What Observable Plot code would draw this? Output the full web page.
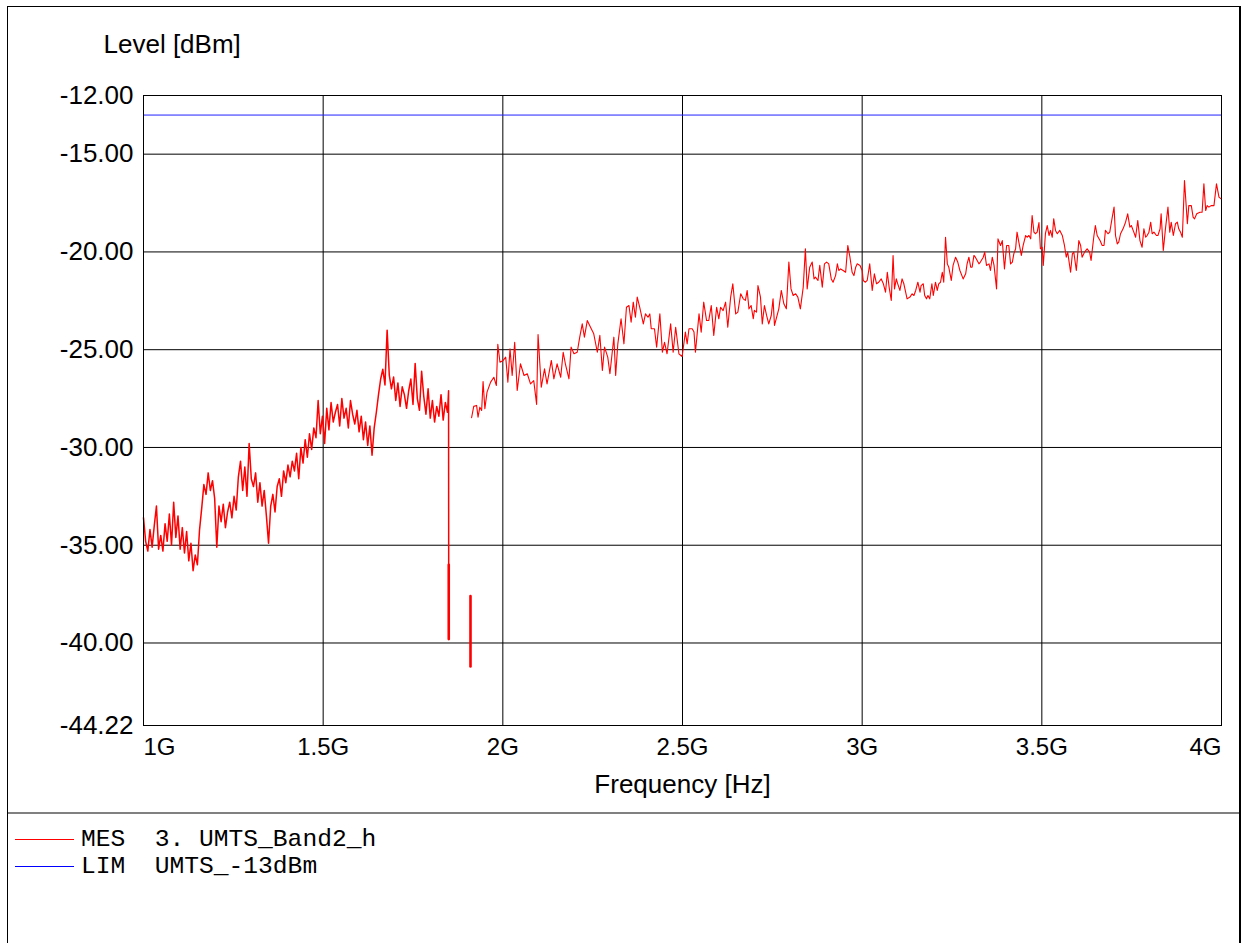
<!DOCTYPE html>
<html><head><meta charset="utf-8">
<script src="https://cdn.jsdelivr.net/npm/d3@7"></script>
<script src="https://cdn.jsdelivr.net/npm/@observablehq/plot@0.6"></script>
<style>
html,body{margin:0;padding:0;background:#fff}
body{width:1242px;height:943px;overflow:hidden;position:relative;font-family:"Liberation Sans",Arial,sans-serif}
#chart{position:absolute;left:0;top:0}
#frame{position:absolute;left:7px;top:6px;height:960px;border-left:1px solid #000;border-top:1px solid #000;border-right:2px solid #000;box-sizing:border-box;width:1234px}
#sep{position:absolute;left:8px;top:812px;width:1231px;height:2px;background:#808080}
#legend{position:absolute;left:15px;top:826px;font-family:"Liberation Mono","Courier New",monospace;font-size:24.6px;color:#000}
.row{display:flex;align-items:center;height:27px;white-space:pre}
.sw{width:59px;height:1px;margin-right:7px}
</style></head><body>
<div id="chart"></div><div id="frame"></div><div id="sep"></div>
<div id="legend"></div>
<script>
// ---- Data ----
const yTicks = [-12, -15, -20, -25, -30, -35, -40, -44.22];
const yGrid = [-15, -20, -25, -30, -35, -40];
const xTicksMid = [1500, 2000, 2500, 3000, 3500];   // MHz
const xGrid = [1500, 2000, 2500, 3000, 3500];
const limitLevel = -13;                               // LIM UMTS_-13dBm

// Segment A: sweep 1000 MHz .. 1846 MHz, 6 MHz step
const segAStart = 1000, segAStep = 6;
const levelA = [
 -33.6,-34.8,-35.3,-34.2,-35.1,-34.0,-33.0,-35.2,
 -34.5,-35.3,-33.9,-34.8,-33.4,-35.0,
 -32.8,
 -34.6,-33.5,-35.2,-34.1,-35.4,-34.3,-35.8,-34.9,-36.3,-35.5,-36.0,-34.2,
 -33.1,-31.9,-32.4,-31.3,-32.2,-31.7,-32.6,
 -35.1,
 -33.0,-33.8,-32.9,-34.1,-33.3,-32.8,-33.6,-32.5,-33.2,
 -31.5,-30.7,-32.2,-31.0,-32.5,-29.8,-31.6,
 -32.0,-31.3,-32.8,-31.8,-33.0,-32.2,-33.5,-34.9,
 -33.0,-32.4,-33.3,-32.0,-31.6,-32.5,-31.2,-31.8,-30.9,-31.5,-30.7,
 -31.2,-30.3,-31.6,-30.0,-30.8,-29.6,-30.5,-29.3,-30.1,-29.0,-29.5,-27.6,
 -29.3,-28.4,-29.8,-28.0,-29.1,-27.7,-28.7,-28.2,
 -27.8,-28.9,-27.5,-28.5,-28.0,-29.0,-27.6,-28.3,-28.8,
 -28.1,-29.2,-28.4,-29.6,-28.7,-29.9,-28.9,-30.4,
 -29.0,-28.2,-27.3,-26.5,-26.0,
 -26.8,
 -24.0,
 -26.3,-27.0,-26.4,-27.6,-26.7,-27.9,-26.9,-27.3,-28.0,-27.1,-26.5,-27.8,-25.7,-27.5,
 -28.1,-26.1,-27.4,-28.3,-27.0,-28.5,-27.6,-28.7,-27.9,-28.4,-27.3,-28.6,-27.7,-28.2
];
// drop at end of segment A (thin part, then dense bar)
const dropFreq  = [1849, 1849.5];
const dropLevel = [-27.1, -39.8];
const barFreq   = [1849.5, 1849.5];
const barLevel  = [-36.0, -39.8];
// isolated notch bar
const notchFreq  = [1910, 1910];
const notchLevel = [-37.6, -41.2];

// Segment D: 1913 MHz .. 4000 MHz
const freqD1 = [1913,1919,1927,1931,1936,1941,1945,1950,1956,1966,1975,1982,1986,1992,2001,2008,2014,2020,2026,2033,2040,2049,2059,2068,2077,2086,2094,2098,2107,2116,2123,2135,2142,2151,2161,2168,2174,2184,2190,2198,2207,2214,2221,2227,2235,2244,2253,2263,2270,2277,2283,2292,2298,2304,2309,2314,2320];
const levelD1 = [-28.48,-27.90,-27.85,-28.45,-27.94,-28.11,-26.63,-28.02,-27.17,-26.66,-26.41,-26.83,-24.73,-25.64,-25.55,-25.38,-26.66,-24.96,-26.32,-24.62,-27.09,-25.72,-26.32,-26.23,-26.75,-26.58,-27.80,-24.22,-26.92,-25.98,-26.75,-25.55,-26.49,-25.72,-26.41,-25.13,-25.72,-26.49,-24.87,-25.21,-25.13,-24.36,-23.68,-24.36,-23.51,-23.85,-24.19,-25.13,-24.27,-26.06,-24.87,-25.38,-26.23,-25.21,-24.36,-26.32,-24.70];
const freqD2 = [2329,2337,2344,2351,2357,2363,2369,2374,2381,2391,2397,2404,2409,2413,2422,2428,2437,2444,2450,2457,2467,2474,2481,2490,2499,2508,2513,2518,2527,2532,2536,2546,2552,2559,2567,2573,2580,2587,2595,2601,2606,2613,2620,2626,2634,2640,2648,2654,2662];
const levelD2 = [-23.42,-24.70,-22.83,-22.74,-23.59,-22.57,-23.34,-22.31,-22.83,-23.68,-23.17,-23.34,-23.17,-23.93,-23.93,-24.87,-23.17,-25.13,-24.62,-25.21,-23.68,-25.13,-23.85,-25.21,-25.35,-24.10,-24.70,-23.93,-23.93,-24.10,-25.13,-23.17,-24.10,-22.57,-23.51,-23.51,-22.74,-24.27,-22.83,-23.42,-22.83,-23.00,-22.57,-23.85,-22.31,-21.63,-23.17,-23.08,-22.14];
const freqD3 = [2669,2675,2680,2685,2691,2697,2700,2706,2710,2717,2722,2728,2734,2740,2747,2752,2756,2762,2768,2775,2782,2789,2796,2802,2808,2815,2821,2828,2836,2842,2847,2854,2861,2866,2870,2877,2882,2889,2895,2901,2907,2914,2919,2926,2931,2935,2940,2947,2954,2960,2966,2972,2977,2982,2986,2994,3000,3003,3009,3014,3021,3028,3034,3040,3046,3053,3059,3065,3070,3075,3081,3086,3090,3095,3099,3105,3111,3116,3121,3125,3133,3139,3144,3149,3155,3161,3164,3170,3174,3179,3183,3188,3194,3198,3204,3209,3213,3218,3223,3227,3232,3237,3241,3248,3253,3260,3266,3272];
const levelD3 = [-22.40,-22.48,-21.97,-22.91,-22.74,-23.42,-22.99,-23.08,-21.72,-22.31,-23.68,-22.74,-23.25,-23.68,-23.25,-22.40,-23.76,-23.34,-22.91,-21.97,-22.65,-22.91,-20.52,-21.89,-22.23,-22.14,-22.31,-22.91,-21.80,-19.84,-21.89,-20.78,-20.52,-21.38,-21.29,-21.46,-20.69,-21.80,-20.61,-20.52,-20.61,-21.38,-21.55,-21.21,-20.61,-20.95,-20.87,-20.95,-21.04,-19.67,-20.27,-21.04,-21.21,-20.78,-20.61,-20.69,-20.95,-21.46,-21.55,-21.46,-20.61,-21.97,-21.12,-21.63,-21.55,-21.38,-21.63,-22.06,-21.04,-21.80,-22.48,-20.18,-21.89,-21.38,-21.63,-21.97,-21.38,-21.63,-22.06,-22.40,-22.31,-22.14,-22.23,-21.97,-21.55,-22.06,-21.72,-21.63,-22.23,-22.40,-22.23,-22.40,-21.63,-22.23,-21.55,-21.97,-21.63,-21.55,-21.04,-21.55,-19.25,-20.61,-20.78,-21.46,-20.69,-20.27,-20.52,-20.95];
const freqD4 = [3281,3288,3292,3297,3302,3306,3311,3315,3320,3325,3329,3337,3341,3346,3353,3357,3362,3367,3374,3378,3385,3390,3396,3402,3408,3413,3418,3422,3427,3431,3436,3443,3448,3455,3459,3464,3469,3473,3478,3482,3487,3492,3496,3501,3504,3510,3515,3520,3524,3529,3533,3538,3543,3550,3557,3563,3568,3572,3580,3585,3589,3596,3603,3608,3612,3619,3626,3633,3637,3645,3649,3654,3662];
const levelD4 = [-21.38,-21.12,-20.61,-20.27,-20.78,-20.78,-20.18,-20.27,-20.44,-20.61,-20.52,-20.27,-20.01,-20.69,-20.61,-20.95,-20.27,-20.69,-21.89,-19.33,-19.67,-19.42,-20.87,-19.67,-19.67,-20.61,-20.52,-20.10,-19.84,-18.99,-19.50,-20.18,-19.67,-19.16,-19.25,-19.16,-19.33,-18.14,-18.99,-19.07,-18.99,-18.50,-19.84,-19.76,-20.69,-19.07,-18.65,-19.16,-18.90,-19.25,-18.30,-18.90,-19.07,-18.90,-19.16,-19.67,-20.27,-20.01,-21.04,-20.10,-20.01,-20.95,-19.42,-19.67,-20.27,-20.01,-19.84,-20.01,-20.44,-19.16,-18.65,-19.16,-19.42];
const freqD5 = [3668,3673,3677,3684,3689,3696,3701,3705,3710,3714,3719,3726,3733,3739,3745,3749,3756,3761,3767,3773,3779,3784,3789,3793,3798,3803,3807,3812,3819,3823,3829,3832,3838,3844,3851,3856,3860,3866,3872,3877,3881,3886,3891,3897,3905,3909,3916,3921,3925,3931,3934,3940,3946,3951,3956,3960,3965,3971,3979,3986,3993,3999];
const levelD5 = [-19.67,-19.67,-18.90,-19.07,-18.99,-18.22,-17.71,-19.16,-19.59,-19.50,-19.07,-18.82,-18.48,-18.05,-18.73,-18.65,-18.99,-19.25,-18.39,-19.42,-19.76,-18.82,-19.25,-19.16,-18.99,-18.48,-19.07,-18.99,-19.16,-19.16,-18.82,-18.05,-19.93,-18.82,-17.71,-18.99,-18.48,-19.16,-18.56,-18.48,-18.82,-18.99,-19.25,-16.35,-18.56,-17.63,-17.63,-18.22,-18.31,-18.05,-18.02,-17.97,-17.97,-16.52,-17.88,-17.63,-17.71,-17.63,-17.63,-16.52,-17.20,-17.29];

const legendItems = [
  {color: "#ff0000", text: "MES  3. UMTS_Band2_h"},
  {color: "#0000ff", text: "LIM  UMTS_-13dBm"}
];

// ---- Build tables ----
const rowsA = [];
levelA.forEach((v, i) => rowsA.push({f: segAStart + segAStep * i, v}));
dropFreq.forEach((f, i) => rowsA.push({f, v: dropLevel[i]}));
const rowsBars = [];
barFreq.forEach((f, i) => rowsBars.push({f, v: barLevel[i], seg: "B"}));
notchFreq.forEach((f, i) => rowsBars.push({f, v: notchLevel[i], seg: "C"}));
const rowsD = [];
[[freqD1, levelD1], [freqD2, levelD2], [freqD3, levelD3], [freqD4, levelD4], [freqD5, levelD5]].forEach(([fs, vs]) => {
  const n = Math.min(fs.length, vs.length);
  for (let i = 0; i < n; i++) rowsD.push({f: fs[i], v: vs[i]});
});

const font = '"Liberation Sans", Arial, sans-serif';
const fmtX = d => (d / 1000) + "G";
const axisXOpts = {tickSize: 0, tickPadding: 12, tickFormat: fmtX, label: null, fontSize: 24};

const chart = Plot.plot({
  width: 1242, height: 812,
  marginLeft: 143, marginRight: 21, marginTop: 95, marginBottom: 87,
  style: {fontFamily: font, fontSize: "24px", background: "transparent", color: "#000", overflow: "visible"},
  x: {domain: [1000, 4000]},
  y: {domain: [-44.22, -12]},
  marks: [
    Plot.gridY(yGrid, {stroke: "#000", strokeOpacity: 1, strokeWidth: 1}),
    Plot.gridX(xGrid, {stroke: "#000", strokeOpacity: 1, strokeWidth: 1}),
    Plot.ruleY([limitLevel], {stroke: "#2020ff", strokeWidth: 1}),
    Plot.line(rowsA, {x: "f", y: "v", stroke: "#ff0000", strokeWidth: 1.5}),
    Plot.line(rowsBars, {x: "f", y: "v", z: "seg", stroke: "#ff0000", strokeWidth: 2.6}),
    Plot.line(rowsD, {x: "f", y: "v", stroke: "#ff0000", strokeWidth: 1.1}),
    Plot.frame({stroke: "#000", strokeWidth: 1}),
    Plot.axisY(yTicks, {tickSize: 0, tickPadding: 10, tickFormat: d => d.toFixed(2), label: null, fontSize: 26}),
    Plot.axisX(xTicksMid, axisXOpts),
    Plot.axisX([1000], {...axisXOpts, textAnchor: "start"}),
    Plot.axisX([4000], {...axisXOpts, textAnchor: "end"}),
    Plot.text(["Level [dBm]"], {frameAnchor: "top-left", dx: -40, dy: -51, textAnchor: "start", lineAnchor: "middle", fontSize: 26}),
    Plot.text(["Frequency [Hz]"], {frameAnchor: "bottom", dy: 59, lineAnchor: "middle", fontSize: 26})
  ]
});
document.getElementById("chart").appendChild(chart);

const leg = document.getElementById("legend");
legendItems.forEach(it => {
  const r = document.createElement("div"); r.className = "row";
  const s = document.createElement("div"); s.className = "sw"; s.style.background = it.color;
  const t = document.createElement("span"); t.textContent = it.text;
  r.appendChild(s); r.appendChild(t); leg.appendChild(r);
});
</script>
</body></html>
